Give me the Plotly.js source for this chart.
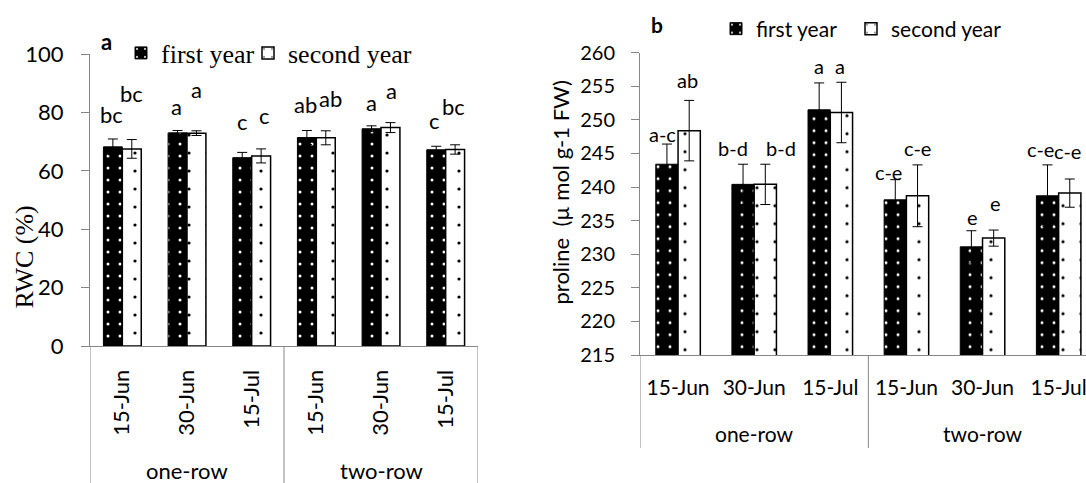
<!DOCTYPE html>
<html>
<head>
<meta charset="utf-8">
<script src="https://cdn.plot.ly/plotly-3.0.1.min.js"></script>
<style>
html,body{margin:0;padding:0;overflow:hidden;background:#fff;}
#chart{width:1110px;height:483px;}
</style>
</head>
<body>
<div id="chart"></div>
<script>
// ---------- data ----------
const categories = ['15-Jun', '30-Jun', '15-Jul', '15-Jun', '30-Jun', '15-Jul'];
const groups = ['one-row', 'two-row'];
const seriesNames = ['first year', 'second year'];
const rwcTitle = 'RWC (%)';
const prolineTitle = 'proline  (µ mol g-1 FW)';
const rwcRange = [0, 100];
const prolineRange = [215, 260];

const rwcFirst = [68.2, 73.0, 64.5, 71.4, 74.4, 67.2];
const rwcFirstErr = [2.7, 0.8, 1.8, 2.4, 1.0, 1.2];
const rwcSecond = [67.5, 72.9, 65.1, 71.3, 74.8, 67.3];
const rwcSecondErr = [3.2, 0.8, 2.4, 2.4, 1.7, 1.6];
const rwcFirstLetters = ['bc', 'a', 'c', 'ab', 'a', 'c'];
const rwcSecondLetters = ['bc', 'a', 'c', 'ab', 'a', 'bc'];

const prolineFirst = [243.4, 240.4, 251.5, 238.1, 231.1, 238.7];
const prolineFirstErr = [3.0, 3.0, 4.0, 3.0, 2.4, 4.6];
const prolineSecond = [248.4, 240.4, 251.1, 238.7, 232.4, 239.1];
const prolineSecondErr = [4.5, 3.0, 4.5, 4.6, 1.2, 2.1];
const prolineFirstLetters = ['a-c', 'b-d', 'a', 'c-e', 'e', 'c-e'];
const prolineSecondLetters = ['ab', 'b-d', 'a', 'c-e', 'e', 'c-e'];

// ---------- letter placement (annotation positions, not data) ----------
const rwcFirstLabelY = [79.4, 82.0, 76.9, 82.8, 83.4, 77.1];
const rwcSecondLabelY = [86.6, 87.7, 78.9, 84.7, 87.4, 82.0];
const rwcFirstShift = [-11, -11, -9, -11, -10, -11];
const rwcSecondShift = [9, 9, 13, 14, 10, 8];
const proFirstLabelY = [247.9, 245.8, 258.0, 242.3, 235.6, 245.7];
const proSecondLabelY = [256.0, 245.8, 258.0, 245.8, 237.6, 245.3];
const proFirstShift = [-16, -21, -11, -18, -10, -18];
const proSecondShift = [9, 27, 10, 11, 13, 9];

// ---------- styles ----------
const W = 1110, H = 483;
const AX = '#868686';
const sans = 'Lato, "Open Sans", sans-serif';
const serif = '"Liberation Serif", "Times New Roman", serif';
const idx = categories.map((c, i) => i);

const firstMarker = {
  color: 'black',
  line: {color: 'black', width: 1},
  pattern: {shape: '.', fgcolor: 'white', bgcolor: 'black', size: 12, solidity: 0.05}
};
const secondMarker = {
  color: 'white',
  line: {color: 'black', width: 1.5},
  pattern: {shape: '.', fgcolor: 'black', bgcolor: 'white', size: 18, solidity: 0.025}
};
function err(arr) {
  return {type: 'data', array: arr, visible: true, color: 'black', thickness: 1, width: 5};
}

const traces = [
  {type: 'bar', x: idx, y: rwcFirst, name: seriesNames[0], marker: firstMarker,
   error_y: err(rwcFirstErr), xaxis: 'x', yaxis: 'y', legend: 'legend'},
  {type: 'bar', x: idx, y: rwcSecond, name: seriesNames[1], marker: secondMarker,
   error_y: err(rwcSecondErr), xaxis: 'x', yaxis: 'y', legend: 'legend3'},
  {type: 'bar', x: idx, y: prolineFirst, name: seriesNames[0], marker: firstMarker,
   error_y: err(prolineFirstErr), xaxis: 'x2', yaxis: 'y2', legend: 'legend2'},
  {type: 'bar', x: idx, y: prolineSecond, name: seriesNames[1], marker: secondMarker,
   error_y: err(prolineSecondErr), xaxis: 'x2', yaxis: 'y2', legend: 'legend4'},
  // empty traces that only carry the overlaid tick-label axes
  {type: 'scatter', x: [], y: [], xaxis: 'x', yaxis: 'y3', showlegend: false, hoverinfo: 'skip'},
  {type: 'scatter', x: [], y: [], xaxis: 'x2', yaxis: 'y4', showlegend: false, hoverinfo: 'skip'}
];

const annotations = [];
function letters(arr, ys, shifts, xref, yref, size) {
  arr.forEach((t, i) => annotations.push({
    text: t, x: i, y: ys[i], xref: xref, yref: yref, xshift: shifts[i],
    showarrow: false, xanchor: 'center', yanchor: 'middle',
    font: {family: sans, size: size, color: 'black'}
  }));
}
letters(rwcFirstLetters, rwcFirstLabelY, rwcFirstShift, 'x', 'y', 22);
letters(rwcSecondLetters, rwcSecondLabelY, rwcSecondShift, 'x', 'y', 22);
letters(prolineFirstLetters, proFirstLabelY, proFirstShift, 'x2', 'y2', 20);
letters(prolineSecondLetters, proSecondLabelY, proSecondShift, 'x2', 'y2', 20);

// group labels
groups.forEach((g, k) => {
  annotations.push({text: g, x: 1 + 3 * k, y: 13 / H, xref: 'x', yref: 'paper',
    showarrow: false, yanchor: 'middle', font: {family: sans, size: 22, color: 'black'}});
  annotations.push({text: g, x: 1 + 3 * k, y: 50 / H, xref: 'x2', yref: 'paper',
    showarrow: false, yanchor: 'middle', font: {family: sans, size: 21, color: 'black'}});
});
// panel letters
annotations.push({text: '<b>a</b>', x: 106.5 / W, y: 1 - 41.5 / H, xref: 'paper', yref: 'paper',
  showarrow: false, xanchor: 'center', yanchor: 'middle', font: {family: sans, size: 22, color: 'black'}});
annotations.push({text: '<b>b</b>', x: 656.7 / W, y: 1 - 24.8 / H, xref: 'paper', yref: 'paper',
  showarrow: false, xanchor: 'center', yanchor: 'middle', font: {family: sans, size: 21, color: 'black'}});
// y-axis titles (placed as in the reference, off-centre)
annotations.push({text: rwcTitle, textangle: -90, x: 24 / W, y: 1 - 257.5 / H, xref: 'paper', yref: 'paper',
  showarrow: false, xanchor: 'center', yanchor: 'middle', font: {family: serif, size: 26, color: 'black'}});
annotations.push({text: prolineTitle, textangle: -90, x: 560 / W, y: 1 - 192.5 / H, xref: 'paper', yref: 'paper',
  showarrow: false, xanchor: 'center', yanchor: 'middle', font: {family: sans, size: 22, color: 'black'}});

// group dividers
const shapes = [];
[-0.5, 2.5, 5.5].forEach(x => {
  shapes.push({type: 'line', xref: 'x', yref: 'paper', x0: x, x1: x, y0: 0, y1: 137 / H,
    line: {color: AX, width: 1}});
  shapes.push({type: 'line', xref: 'x2', yref: 'paper', x0: x, x1: x, y0: 35 / H, y1: 128 / H,
    line: {color: AX, width: 1}});
});

function legendAt(px, py, font) {
  return {orientation: 'h', x: px / W, y: 1 - py / H, xanchor: 'left', yanchor: 'middle',
    font: font, bgcolor: 'rgba(0,0,0,0)', borderwidth: 0,
    itemclick: false, itemdoubleclick: false};
}
const legFontA = {family: serif, size: 26, color: 'black'};
const legFontB = {family: sans, size: 21, color: 'black'};

// visible axis (line + short ticks) and an overlaid label axis (labels further out)
function yLine(domain, range, dtick, anchor) {
  return {domain: domain, range: range, dtick: dtick, ticks: 'outside', ticklen: 8,
    tickcolor: AX, showline: true, linecolor: AX, linewidth: 1, showgrid: false, zeroline: false,
    showticklabels: false, automargin: false, anchor: anchor, fixedrange: true};
}
function yLabels(range, dtick, anchor, over, size, len) {
  return {range: range, dtick: dtick, overlaying: over, anchor: anchor, side: 'left',
    ticks: 'outside', ticklen: len, tickcolor: 'rgba(0,0,0,0)', showline: false,
    showgrid: false, zeroline: false, tickfont: {family: sans, size: size, color: 'black'},
    automargin: false, fixedrange: true};
}

const layout = {
  width: W, height: H,
  margin: {l: 0, r: 0, t: 0, b: 0},
  paper_bgcolor: 'white', plot_bgcolor: 'white',
  barmode: 'group', bargap: 0.415, bargroupgap: 0,
  font: {family: sans, color: 'black'},
  xaxis: {
    domain: [90 / W, 478 / W], range: [-0.5, 5.5], tickmode: 'array',
    tickvals: idx, ticktext: categories, tickangle: -90, ticks: '',
    showline: true, linecolor: AX, linewidth: 1, showgrid: false, zeroline: false,
    tickfont: {family: sans, size: 22, color: 'black'}, ticklabelstandoff: 14,
    automargin: false, anchor: 'y', fixedrange: true
  },
  yaxis: yLine([137 / H, 429 / H], rwcRange, 20, 'x'),
  yaxis3: yLabels(rwcRange, 20, 'x', 'y', 22, 21),
  xaxis2: {
    domain: [640 / W, 1096.7 / W], range: [-0.5, 5.5], tickmode: 'array',
    tickvals: idx, ticktext: categories, tickangle: 0, ticks: '',
    showline: true, linecolor: AX, linewidth: 1, showgrid: false, zeroline: false,
    tickfont: {family: sans, size: 21, color: 'black'}, ticklabelstandoff: 14,
    automargin: false, anchor: 'y2', fixedrange: true
  },
  yaxis2: yLine([128 / H, 430.3 / H], prolineRange, 5, 'x2'),
  yaxis4: yLabels(prolineRange, 5, 'x2', 'y2', 20, 20),
  legend: legendAt(121, 53, legFontA),
  legend3: legendAt(248, 53, legFontA),
  legend2: legendAt(716, 29, legFontB),
  legend4: legendAt(851, 29, legFontB),
  showlegend: true,
  annotations: annotations,
  shapes: shapes
};

Plotly.newPlot('chart', traces, layout, {displayModeBar: false, staticPlot: true, responsive: false});
</script>
</body>
</html>
